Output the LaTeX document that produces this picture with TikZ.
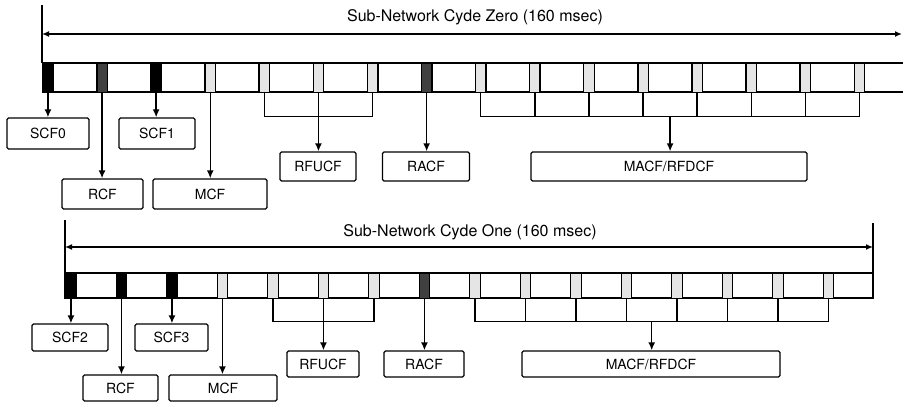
\documentclass[tikz,border=0pt]{standalone}
\usepackage{fontspec}
\setmainfont{TeX Gyre Heros}
\usepackage{xcolor}
\usetikzlibrary{arrows.meta,calc}
\colorlet{slotdark}{black!75}
\colorlet{slotlight}{black!10}

\begin{document}
\begin{tikzpicture}[x=1pt, y=-1pt, line width=1.4pt, font=\fontsize{14}{16}\selectfont,
  slot/.style={draw, inner sep=0pt, minimum width=10.5pt, anchor=north west},
  chan/.style={draw, rounded corners=1.5pt, inner sep=0pt},
  tip/.style={-{Latex[length=8pt,width=7pt]}},
  cycletitle/.style={font=\fontsize{16}{18}\selectfont}]
  \useasboundingbox (0,0) rectangle (903,404);

  % cycle zero
  \node[cycletitle] (titlezero) at (475,17) {Sub-Network Cyde Zero (160 msec)};
  \coordinate (zl) at (42,34);
  \coordinate (zr) at (902,34);
  \draw[{Latex[length=7pt,width=6pt]}-{Latex[length=7pt,width=6pt]}] (zl) -- (zr);
  \draw (42,5) -- (42,63);
  \draw (42,63) -- (903,63) (42,92) -- (903,92);
  \foreach \i/\f in {1/black,2/slotdark,3/black,4/slotlight,5/slotlight,6/slotlight,
      7/slotlight,8/slotdark,9/slotlight,10/slotlight,11/slotlight,12/slotlight,
      13/slotlight,14/slotlight,15/slotlight,16/slotlight}
    \node[slot, fill=\f, minimum height=29pt] (z\i) at ({42+(\i-1)*54.1},63) {};

  \node[chan, minimum width=82pt, minimum height=31pt] (scfzero) at (48,133.5) {SCF0};
  \node[chan, minimum width=76pt, minimum height=31pt] (scfone) at (157,133.5) {SCF1};
  \node[chan, minimum width=81pt, minimum height=30pt] (rcfa) at (102.5,194) {RCF};
  \node[chan, minimum width=114pt, minimum height=30pt] (mcfa) at (210,194) {MCF};
  \node[chan, minimum width=76pt, minimum height=29pt] (rfucfa) at (318,166.5) {RFUCF};
  \node[chan, minimum width=87pt, minimum height=29pt] (racfa) at (426,166.5) {RACF};
  \node[chan, minimum width=276pt, minimum height=29pt] (macfa) at (669,166.5) {MACF/RFDCF};

  \draw[tip] (z1.south) -- (z1.south |- scfzero.north);
  \draw[tip] (z3.south) -- (z3.south |- scfone.north);
  \draw[tip] (z2.south) -- (z2.south |- rcfa.north);
  \draw[tip] (z4.south) -- (z4.south |- mcfa.north);
  \draw (z5.south) -- ++(0,23) -| (z7.south);
  \draw[tip] (z6.south) -- (z6.south |- rfucfa.north);
  \draw[tip] (z8.south) -- (z8.south |- racfa.north);
  \draw (z9.south) -- ++(0,23) -| (z16.south);
  \foreach \i in {10,...,15}
    \draw (z\i.south) -- ++(0,23);
  \coordinate (zmid) at ($(z9.south)!.5!(z16.south)+(0,23)$);
  \draw[tip] (zmid) -- (zmid |- macfa.north);

  % cycle one
  \node[cycletitle] (titleone) at (470,232) {Sub-Network Cyde One (160 msec)};
  \coordinate (ol) at (65,247);
  \coordinate (or) at (873,247);
  \draw[{Latex[length=7pt,width=6pt]}-{Latex[length=7pt,width=6pt]}] (ol) -- (or);
  \draw (65,220) -- (65,273) (873,223) -- (873,273);
  \draw (65,273) rectangle (873,298);
  \foreach \i/\f in {1/black,2/black,3/black,4/slotlight,5/slotlight,6/slotlight,
      7/slotlight,8/slotdark,9/slotlight,10/slotlight,11/slotlight,12/slotlight,
      13/slotlight,14/slotlight,15/slotlight,16/slotlight}
    \node[slot, fill=\f, minimum height=25pt] (o\i) at ({65+(\i-1)*50.5},273) {};

  \node[chan, minimum width=76pt, minimum height=27pt] (scftwo) at (70,337.5) {SCF2};
  \node[chan, minimum width=73pt, minimum height=27pt] (scfthree) at (171.5,337.5) {SCF3};
  \node[chan, minimum width=75pt, minimum height=26pt] (rcfb) at (120.5,388) {RCF};
  \node[chan, minimum width=108pt, minimum height=26pt] (mcfb) at (223,388) {MCF};
  \node[chan, minimum width=72pt, minimum height=26pt] (rfucfb) at (323,364) {RFUCF};
  \node[chan, minimum width=80pt, minimum height=26pt] (racfb) at (424,364) {RACF};
  \node[chan, minimum width=258pt, minimum height=26pt] (macfb) at (651,364) {MACF/RFDCF};

  \draw[tip] (o1.south) -- (o1.south |- scftwo.north);
  \draw[tip] (o3.south) -- (o3.south |- scfthree.north);
  \draw[tip] (o2.south) -- (o2.south |- rcfb.north);
  \draw[tip] (o4.south) -- (o4.south |- mcfb.north);
  \draw (o5.south) -- ++(0,22) -| (o7.south);
  \draw[tip] (o6.south) -- (o6.south |- rfucfb.north);
  \draw[tip] (o8.south) -- (o8.south |- racfb.north);
  \draw (o9.south) -- ++(0,22) -| (o16.south);
  \foreach \i in {10,...,15}
    \draw (o\i.south) -- ++(0,22);
  \coordinate (omid) at ($(o9.south)!.5!(o16.south)+(0,22)$);
  \draw[tip] (omid) -- (omid |- macfb.north);
\end{tikzpicture}
\end{document}
